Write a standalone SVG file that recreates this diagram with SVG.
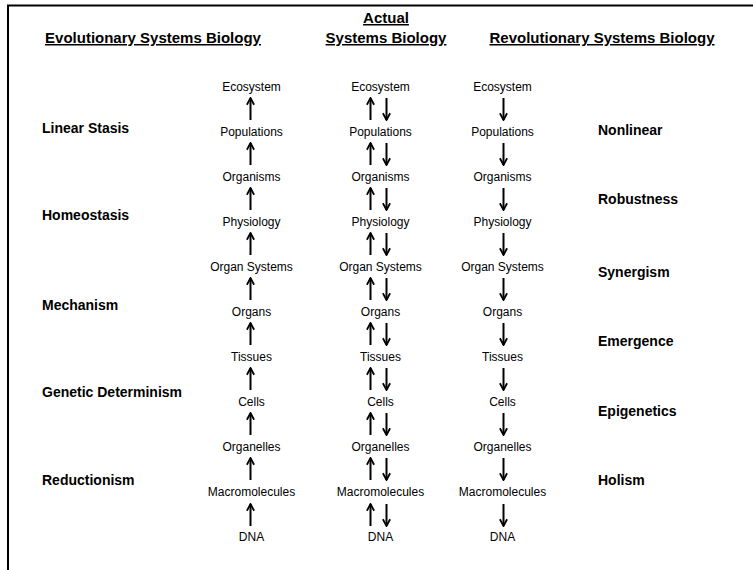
<svg xmlns="http://www.w3.org/2000/svg" width="753" height="570" viewBox="0 0 753 570">
<defs>
<marker id="ah" viewBox="0 0 10 10" refX="9" refY="5" markerWidth="9" markerHeight="9" markerUnits="userSpaceOnUse" orient="auto">
<path d="M1.5,1 L9,5 L1.5,9" fill="none" stroke="#000" stroke-width="2"/>
</marker>
<style>
.hd{font-family:"Liberation Sans",Arial,sans-serif;font-size:15px;font-weight:bold;text-decoration:underline;fill:#000}
.lb{font-family:"Liberation Sans",Arial,sans-serif;font-size:14px;font-weight:bold;fill:#000}
.lv{font-family:"Liberation Sans",Arial,sans-serif;font-size:12px;fill:#000;text-anchor:middle}
.ar{stroke:#000;stroke-width:2;fill:none;marker-end:url(#ah)}
.bd{stroke:#000;stroke-width:2;fill:none}
</style>
</defs>
<rect width="753" height="570" fill="#fff"/>
<path class="bd" d="M8,570 V5.5 H753"/>
<g id="headers">
<text class="hd" x="153" y="43" text-anchor="middle">Evolutionary Systems Biology</text>
<text class="hd" x="386" y="23" text-anchor="middle">Actual</text>
<text class="hd" x="386" y="43" text-anchor="middle">Systems Biology</text>
<text class="hd" x="602" y="43" text-anchor="middle">Revolutionary Systems Biology</text>
</g>
<g id="left-labels">
<text class="lb" x="42" y="133">Linear Stasis</text>
<text class="lb" x="42" y="220">Homeostasis</text>
<text class="lb" x="42" y="310">Mechanism</text>
<text class="lb" x="42" y="397">Genetic Determinism</text>
<text class="lb" x="42" y="485">Reductionism</text>
</g>
<g id="right-labels">
<text class="lb" x="598" y="135">Nonlinear</text>
<text class="lb" x="598" y="204">Robustness</text>
<text class="lb" x="598" y="277">Synergism</text>
<text class="lb" x="598" y="346">Emergence</text>
<text class="lb" x="598" y="416">Epigenetics</text>
<text class="lb" x="598" y="485">Holism</text>
</g>
<g id="col-evolutionary">
<text class="lv" x="251.5" y="91">Ecosystem</text>
<text class="lv" x="251.5" y="136">Populations</text>
<text class="lv" x="251.5" y="181">Organisms</text>
<text class="lv" x="251.5" y="226">Physiology</text>
<text class="lv" x="251.5" y="271">Organ Systems</text>
<text class="lv" x="251.5" y="316">Organs</text>
<text class="lv" x="251.5" y="361">Tissues</text>
<text class="lv" x="251.5" y="406">Cells</text>
<text class="lv" x="251.5" y="451">Organelles</text>
<text class="lv" x="251.5" y="496">Macromolecules</text>
<text class="lv" x="251.5" y="541">DNA</text>
</g>
<g id="col-actual">
<text class="lv" x="380.5" y="91">Ecosystem</text>
<text class="lv" x="380.5" y="136">Populations</text>
<text class="lv" x="380.5" y="181">Organisms</text>
<text class="lv" x="380.5" y="226">Physiology</text>
<text class="lv" x="380.5" y="271">Organ Systems</text>
<text class="lv" x="380.5" y="316">Organs</text>
<text class="lv" x="380.5" y="361">Tissues</text>
<text class="lv" x="380.5" y="406">Cells</text>
<text class="lv" x="380.5" y="451">Organelles</text>
<text class="lv" x="380.5" y="496">Macromolecules</text>
<text class="lv" x="380.5" y="541">DNA</text>
</g>
<g id="col-revolutionary">
<text class="lv" x="502.5" y="91">Ecosystem</text>
<text class="lv" x="502.5" y="136">Populations</text>
<text class="lv" x="502.5" y="181">Organisms</text>
<text class="lv" x="502.5" y="226">Physiology</text>
<text class="lv" x="502.5" y="271">Organ Systems</text>
<text class="lv" x="502.5" y="316">Organs</text>
<text class="lv" x="502.5" y="361">Tissues</text>
<text class="lv" x="502.5" y="406">Cells</text>
<text class="lv" x="502.5" y="451">Organelles</text>
<text class="lv" x="502.5" y="496">Macromolecules</text>
<text class="lv" x="502.5" y="541">DNA</text>
</g>
<g id="connectors">
<path class="ar" d="M250.5,120 V98"/><path class="ar" d="M250.5,165 V143"/><path class="ar" d="M250.5,210 V188"/><path class="ar" d="M250.5,255 V233"/><path class="ar" d="M250.5,300 V278"/><path class="ar" d="M250.5,345 V323"/><path class="ar" d="M250.5,390 V368"/><path class="ar" d="M250.5,435 V413"/><path class="ar" d="M250.5,480 V458"/><path class="ar" d="M250.5,526 V504"/>
<path class="ar" d="M370.5,120 V98"/><path class="ar" d="M370.5,165 V143"/><path class="ar" d="M370.5,210 V188"/><path class="ar" d="M370.5,255 V233"/><path class="ar" d="M370.5,300 V278"/><path class="ar" d="M370.5,345 V323"/><path class="ar" d="M370.5,390 V368"/><path class="ar" d="M370.5,435 V413"/><path class="ar" d="M370.5,480 V458"/><path class="ar" d="M370.5,526 V504"/>
<path class="ar" d="M386.5,98 V120"/><path class="ar" d="M386.5,143 V165"/><path class="ar" d="M386.5,188 V210"/><path class="ar" d="M386.5,233 V255"/><path class="ar" d="M386.5,278 V300"/><path class="ar" d="M386.5,323 V345"/><path class="ar" d="M386.5,368 V390"/><path class="ar" d="M386.5,413 V435"/><path class="ar" d="M386.5,458 V480"/><path class="ar" d="M386.5,504 V526"/>
<path class="ar" d="M503.5,98 V120"/><path class="ar" d="M503.5,143 V165"/><path class="ar" d="M503.5,188 V210"/><path class="ar" d="M503.5,233 V255"/><path class="ar" d="M503.5,278 V300"/><path class="ar" d="M503.5,323 V345"/><path class="ar" d="M503.5,368 V390"/><path class="ar" d="M503.5,413 V435"/><path class="ar" d="M503.5,458 V480"/><path class="ar" d="M503.5,504 V526"/>
</g>
</svg>
